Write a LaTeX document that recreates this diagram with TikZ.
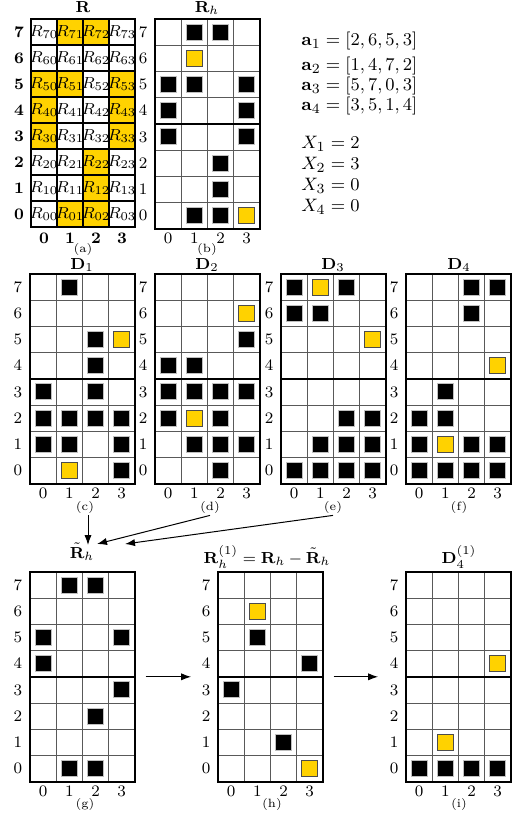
\documentclass[tikz,border=0pt]{standalone}
\usepackage{amsmath,amssymb}
\usepackage{tikz}
\usetikzlibrary{arrows.meta,positioning,calc}
\definecolor{gold}{RGB}{255,210,0}

% one filled square in cell (col,row) of a panel
\newcommand{\blkcell}[2]{\filldraw[blksq] ({(#1+0.5)*26.2-8},{(7.5-#2)*26.2-8}) rectangle ++(16,16);}
\newcommand{\ylwcell}[2]{\filldraw[ylwsq] ({(#1+0.5)*26.2-8},{(7.5-#2)*26.2-8}) rectangle ++(16,16);}

% panel: name, left, top, black cells, yellow cells
\newcommand{\gridpanel}[5]{%
  \begin{scope}[shift={(#2,#3)}]
    \foreach \c/\r in {#4} {\blkcell{\c}{\r}}
    \foreach \c/\r in {#5} {\ylwcell{\c}{\r}}
    \foreach \c in {1,2,3} {\draw[gridline] (\c*26.2,0) -- (\c*26.2,209.6);}
    \foreach \r in {1,...,7} {\draw[gridline] (0,\r*26.2) -- (104.8,\r*26.2);}
    \draw[midline] (0,104.8) -- (104.8,104.8);
    \node[frame] (#1) at (52.4,104.8) {};
    \foreach \r in {0,...,7} {\node[lbl] (#1-r\r) at (-12,{(7.5-\r)*26.2}) {$\r$};}
    \foreach \c in {0,...,3} {\node[lbl] (#1-c\c) at ({(\c+0.5)*26.2},219.5) {$\c$};}
  \end{scope}}

\begin{document}
\begin{tikzpicture}[x=0.5pt,y=-0.5pt,font=\fontsize{8}{9.6}\selectfont,
  gridline/.style={draw=black!65,line width=0.5pt},
  midline/.style={draw=black,line width=0.8pt},
  frame/.style={draw,line width=0.9pt,minimum width=52.4pt,minimum height=104.8pt,inner sep=0pt},
  blksq/.style={fill=black,draw=black!25,line width=0.5pt},
  ylwsq/.style={fill=gold,draw=black!70,line width=0.4pt},
  lbl/.style={inner sep=0pt},
  ttl/.style={anchor=base,inner sep=1pt},
  sub/.style={font=\fontsize{6}{7}\selectfont,inner sep=1pt},
  eqn/.style={anchor=west,inner sep=0pt,font=\fontsize{9.5}{11}\selectfont},
  arr/.style={-{Latex[length=5pt,width=3.6pt]},line width=0.5pt}]
\useasboundingbox (0,0) rectangle (519,814);

% (a) the matrix R
\begin{scope}[shift={(31,19)}]
  \foreach \c/\r in {1/7,2/7,0/5,1/5,3/5,0/4,3/4,0/3,3/3,2/2,2/1,1/0,2/0}
    {\fill[gold] (\c*26,{(7-\r)*26}) rectangle ++(26,26);}
  \foreach \c in {1,2,3} {\draw[midline] (\c*26,0) -- (\c*26,208);}
  \foreach \r in {1,...,7} {\draw[midline] (0,\r*26) -- (104,\r*26);}
  \node[frame,minimum width=52pt,minimum height=104pt] (gridA) at (52,104) {};
  \foreach \r in {0,...,7} {
    \foreach \c in {0,...,3} {\node[lbl] (a-\r\c) at ({(\c+0.5)*26},{(7.5-\r)*26}) {$R_{\r\c}$};}
    \node[lbl] (gridA-r\r) at (-12,{(7.5-\r)*26}) {$\mathbf{\r}$};}
  \foreach \c in {0,...,3} {\node[lbl] (gridA-c\c) at ({(\c+0.5)*26},219.5) {$\mathbf{\c}$};}
\end{scope}
\node[ttl] (titleA) at (83,12) {$\mathbf{R}$};
\node[sub] (subA) at (83,249) {(a)};

% (b) R_h
\gridpanel{gridB}{155}{19}{1/7,2/7,0/5,1/5,3/5,0/4,3/4,0/3,3/3,2/2,2/1,1/0,2/0}{1/6,3/0}
\node[ttl] (titleB) at (207,12) {$\mathbf{R}_h$};
\node[sub] (subB) at (207,249) {(b)};

% the vectors and the values X
\node[eqn] (vecA1) at (301,41) {$\mathbf{a}_1 = [2,6,5,3]$};
\node[eqn] (vecA2) at (301,66) {$\mathbf{a}_2 = [1,4,7,2]$};
\node[eqn] (vecA3) at (301,86) {$\mathbf{a}_3 = [5,7,0,3]$};
\node[eqn] (vecA4) at (301,106) {$\mathbf{a}_4 = [3,5,1,4]$};
\node[eqn] (valX1) at (301,144) {$X_1 = 2$};
\node[eqn] (valX2) at (301,165) {$X_2 = 3$};
\node[eqn] (valX3) at (301,186) {$X_3 = 0$};
\node[eqn] (valX4) at (301,207) {$X_4 = 0$};

% (c)-(f) the matrices D
\gridpanel{gridC}{30}{274}{1/7,2/5,2/4,0/3,2/3,0/2,1/2,2/2,3/2,0/1,1/1,3/1,3/0}{3/5,1/0}
\gridpanel{gridD}{155}{274}{3/5,0/4,1/4,0/3,1/3,2/3,3/3,0/2,2/2,1/1,2/1,3/1,2/0}{3/6,1/2}
\gridpanel{gridE}{281}{274}{0/7,2/7,0/6,1/6,2/2,3/2,1/1,2/1,3/1,0/0,1/0,2/0,3/0}{1/7,3/5}
\gridpanel{gridF}{406}{274}{2/7,3/7,2/6,1/3,0/2,1/2,0/1,2/1,3/1,0/0,1/0,2/0,3/0}{3/4,1/1}
\node[ttl] (titleC) at (82,269) {$\mathbf{D}_1$};
\node[ttl] (titleD) at (207,269) {$\mathbf{D}_2$};
\node[ttl] (titleE) at (333,269) {$\mathbf{D}_3$};
\node[ttl] (titleF) at (459,269) {$\mathbf{D}_4$};
\node[sub] (subC) at (85,507) {(c)};
\node[sub] (subD) at (210,507) {(d)};
\node[sub] (subE) at (333,507) {(e)};
\node[sub] (subF) at (459,507) {(f)};

% (g)-(i) bottom row
\gridpanel{gridG}{30}{572}{1/7,2/7,0/5,3/5,0/4,3/3,2/2,1/0,2/0}{}
\gridpanel{gridH}{218}{572}{1/5,3/4,0/3,2/1}{1/6,3/0}
\gridpanel{gridI}{406}{572}{0/0,1/0,2/0,3/0}{3/4,1/1}
\node[ttl] (titleG) at (82,558) {$\tilde{\mathbf{R}}_h$};
\node[ttl] (titleH) at (267,563) {$\mathbf{R}_h^{(1)} = \mathbf{R}_h - \tilde{\mathbf{R}}_h$};
\node[ttl] (titleI) at (459,563) {$\mathbf{D}_4^{(1)}$};
\node[sub] (subG) at (85,804) {(g)};
\node[sub] (subH) at (272,804) {(h)};
\node[sub] (subI) at (459,804) {(i)};

% arrows
\coordinate (tipC) at (88,545);
\coordinate (tipD) at (97,544);
\coordinate (tipE) at (125,544);
\draw[arr] (subC.south -| tipC) -- (tipC);
\draw[arr] (subD.south) -- (tipD);
\draw[arr] (subE.south) -- (tipE);
\draw[arr,shorten <=5pt,shorten >=13pt] (gridG.east) -- (gridH.west);
\draw[arr,shorten <=5pt,shorten >=13.5pt] (gridH.east) -- (gridI.west);
\end{tikzpicture}
\end{document}
